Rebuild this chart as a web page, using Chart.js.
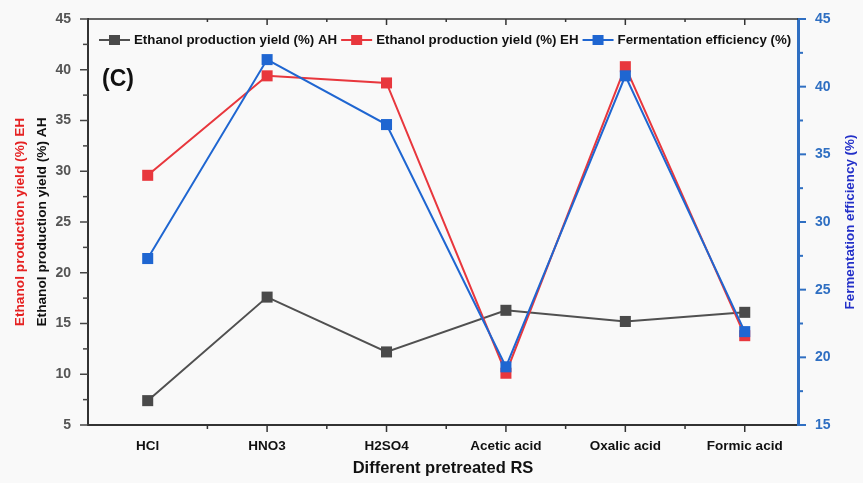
<!DOCTYPE html>
<html lang="en">
<head>
    <meta charset="UTF-8">
    <title>Ethanol production yield and fermentation efficiency</title>
    <script src="https://cdn.jsdelivr.net/npm/chart.js"></script>
    <style>
        body {
            margin: 0;
            padding: 0;
            background-color: #f9f9f9;
        }
        canvas {
            display: block;
        }
    </style>
</head>
<body>

    <canvas id="yieldChart" width="863" height="483"></canvas>

    <script>
        // pretreatments on the x axis
        const categories = ['HCl', 'HNO3', 'H2SO4', 'Acetic acid', 'Oxalic acid', 'Formic acid'];

        // ethanol yield (%) after acid hydrolysis and enzymatic hydrolysis (left axis)
        const yieldAH = [7.4, 17.6, 12.2, 16.3, 15.2, 16.1];
        const yieldEH = [29.6, 39.4, 38.7, 10.1, 40.3, 13.8];

        // fermentation efficiency (%) (right axis)
        const fermEfficiency = [27.3, 42.0, 37.2, 19.3, 40.8, 21.9];

        // axis tick labels
        const leftTicks = [5, 10, 15, 20, 25, 30, 35, 40, 45];
        const rightTicks = [15, 20, 25, 30, 35, 40, 45];

        const GRAY = '#4a4a4a';
        const RED = '#e8373d';
        const BLUE = '#1f66d1';
        const AXIS_BLUE = '#2f6fc2';
        const FONT = '"Liberation Sans", Arial, sans-serif';

        const toPoints = arr => arr.map((v, i) => ({ x: i, y: v }));

        // fixed box size for a scale, without the extra label overhang padding
        const fixSize = (prop, size) => scale => {
            scale[prop] = size;
            scale.paddingTop = 0;
            scale.paddingBottom = 0;
        };

        // tick marks, top frame, axis titles, panel label and legend
        const decorations = {
            id: 'decorations',
            afterDraw(chart) {
                const { ctx, chartArea: a, scales } = chart;
                const x = scales.x, y = scales.y, y1 = scales.y1;
                ctx.save();

                // top frame
                ctx.strokeStyle = '#333';
                ctx.lineWidth = 1.5;
                ctx.beginPath();
                ctx.moveTo(a.left, a.top);
                ctx.lineTo(a.right, a.top);
                ctx.stroke();

                // x ticks: long at categories, short in between; bottom outward, top inward
                for (let v = 0.5; v <= categories.length - 0.5; v += 0.5) {
                    const px = x.getPixelForValue(v);
                    if (px >= a.right) break;
                    const len = Number.isInteger(v) ? 7 : 4;
                    ctx.beginPath();
                    ctx.moveTo(px, a.bottom);
                    ctx.lineTo(px, a.bottom + len);
                    ctx.moveTo(px, a.top);
                    ctx.lineTo(px, a.top + len - 1);
                    ctx.stroke();
                }

                // left ticks
                ctx.strokeStyle = '#444';
                for (let v = leftTicks[0]; v <= leftTicks[leftTicks.length - 1]; v += 2.5) {
                    const py = y.getPixelForValue(v);
                    const len = v % 5 === 0 ? 8 : 5;
                    ctx.beginPath();
                    ctx.moveTo(a.left, py);
                    ctx.lineTo(a.left - len, py);
                    ctx.stroke();
                }

                // right ticks
                ctx.strokeStyle = AXIS_BLUE;
                ctx.lineWidth = 2;
                for (let v = rightTicks[0]; v <= rightTicks[rightTicks.length - 1]; v += 2.5) {
                    const py = y1.getPixelForValue(v);
                    const len = v % 5 === 0 ? 8 : 5;
                    ctx.beginPath();
                    ctx.moveTo(a.right, py);
                    ctx.lineTo(a.right + len, py);
                    ctx.stroke();
                }

                // rotated axis titles
                const cy = (a.top + a.bottom) / 2;
                const vText = (text, px, color, size) => {
                    ctx.save();
                    ctx.translate(px, cy);
                    ctx.rotate(-Math.PI / 2);
                    ctx.font = `bold ${size}px ${FONT}`;
                    ctx.fillStyle = color;
                    ctx.textAlign = 'center';
                    ctx.textBaseline = 'middle';
                    ctx.fillText(text, 0, 0);
                    ctx.restore();
                };
                vText('Ethanol production yield (%) EH', 20, '#e52222', 13.7);
                vText('Ethanol production yield (%) AH', 42, '#111', 13.7);
                vText('Fermentation efficiency (%)', 850, '#2330c8', 13.4);

                // panel label
                ctx.font = `bold 23px ${FONT}`;
                ctx.fillStyle = '#111';
                ctx.textAlign = 'left';
                ctx.textBaseline = 'middle';
                ctx.fillText('(C)', a.left + 14, a.top + 61);

                // legend inside the plot
                ctx.font = `bold 13.3px ${FONT}`;
                let lx = a.left + 11;
                const ly = a.top + 21;
                chart.data.datasets.forEach(ds => {
                    ctx.strokeStyle = ds.borderColor;
                    ctx.lineWidth = 2;
                    ctx.beginPath();
                    ctx.moveTo(lx, ly);
                    ctx.lineTo(lx + 31, ly);
                    ctx.stroke();
                    ctx.fillStyle = ds.pointBackgroundColor;
                    ctx.fillRect(lx + 10, ly - 5, 11, 10);
                    ctx.fillStyle = '#111';
                    ctx.fillText(ds.label, lx + 35, ly + 0.5);
                    lx += 35 + ctx.measureText(ds.label).width + 4;
                });

                ctx.restore();
            }
        };

        const ctx = document.getElementById('yieldChart').getContext('2d');
        new Chart(ctx, {
            type: 'line',
            data: {
                datasets: [
                    {
                        label: 'Ethanol production yield (%) AH',
                        data: toPoints(yieldAH),
                        yAxisID: 'y',
                        borderColor: '#505050',
                        pointBackgroundColor: GRAY,
                        order: 3
                    },
                    {
                        label: 'Ethanol production yield (%) EH',
                        data: toPoints(yieldEH),
                        yAxisID: 'y',
                        borderColor: RED,
                        pointBackgroundColor: RED,
                        order: 2
                    },
                    {
                        label: 'Fermentation efficiency (%)',
                        data: toPoints(fermEfficiency),
                        yAxisID: 'y1',
                        borderColor: BLUE,
                        pointBackgroundColor: BLUE,
                        order: 1
                    }
                ]
            },
            options: {
                responsive: false,
                animation: false,
                devicePixelRatio: 1,
                layout: { padding: { top: 19, left: 0, right: 0, bottom: 0 } },
                elements: {
                    line: { borderWidth: 2, tension: 0 },
                    point: { pointStyle: 'rect', radius: 7.8, borderWidth: 0, hoverRadius: 7.8 }
                },
                plugins: {
                    legend: { display: false },
                    tooltip: { enabled: false }
                },
                scales: {
                    x: {
                        type: 'linear',
                        position: 'bottom',
                        min: -0.5,
                        max: 5.446,
                        afterBuildTicks: scale => {
                            scale.ticks = categories.map((_, i) => ({ value: i }));
                        },
                        afterFit: scale => { scale.height = 58; },
                        ticks: {
                            callback: v => categories[v],
                            color: '#111',
                            font: { family: FONT, size: 13.5, weight: 'bold' },
                            padding: 13,
                            maxRotation: 0,
                            autoSkip: false
                        },
                        grid: { display: false, drawTicks: false },
                        border: { display: true, color: '#333', width: 2 },
                        title: {
                            display: true,
                            text: 'Different pretreated RS',
                            color: '#111',
                            font: { family: FONT, size: 16.5, weight: 'bold' },
                            padding: { top: 0, bottom: 5 }
                        }
                    },
                    y: {
                        position: 'left',
                        min: leftTicks[0],
                        max: leftTicks[leftTicks.length - 1],
                        afterBuildTicks: scale => {
                            scale.ticks = leftTicks.map(v => ({ value: v }));
                        },
                        afterFit: fixSize('width', 88),
                        ticks: {
                            color: '#555',
                            font: { family: FONT, size: 14, weight: 'bold' },
                            padding: 17
                        },
                        grid: { display: false, drawTicks: false },
                        border: { display: true, color: '#333', width: 2 }
                    },
                    y1: {
                        position: 'right',
                        min: rightTicks[0],
                        max: rightTicks[rightTicks.length - 1],
                        afterBuildTicks: scale => {
                            scale.ticks = rightTicks.map(v => ({ value: v }));
                        },
                        afterFit: fixSize('width', 65),
                        ticks: {
                            color: AXIS_BLUE,
                            font: { family: FONT, size: 14, weight: 'bold' },
                            padding: 17
                        },
                        grid: { display: false, drawTicks: false },
                        border: { display: true, color: AXIS_BLUE, width: 3 }
                    }
                }
            },
            plugins: [decorations]
        });
    </script>

</body>
</html>
